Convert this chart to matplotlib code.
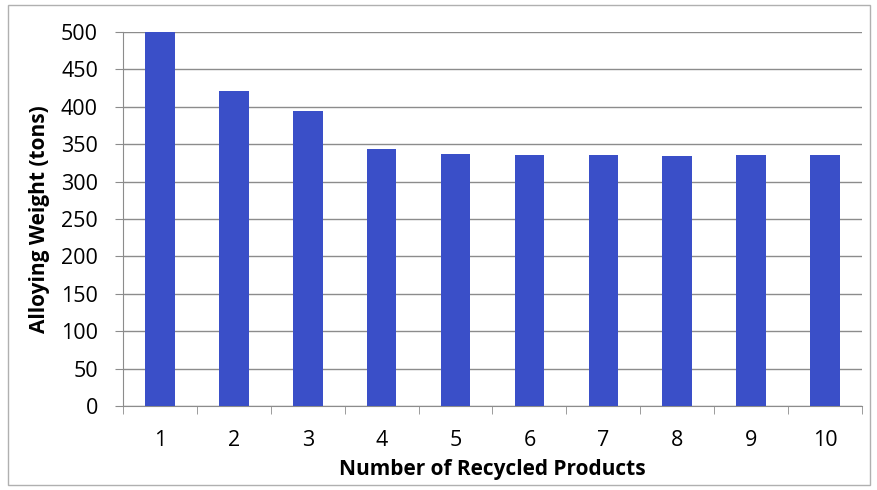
import matplotlib.pyplot as plt
import numpy as np
from matplotlib.patches import Rectangle

# Data
products = [1, 2, 3, 4, 5, 6, 7, 8, 9, 10]
weights = [500, 421, 394, 344, 337, 336, 336, 334, 335, 335]
yticks = [0, 50, 100, 150, 200, 250, 300, 350, 400, 450, 500]

plt.rcParams['font.family'] = ['Open Sans', 'DejaVu Sans']

fig = plt.figure(figsize=(8.78, 4.90), dpi=100)
ax = fig.add_axes([123 / 878, 1 - 406 / 490, (862 - 123) / 878, (406 - 32) / 490])

x = np.arange(len(products))
ax.bar(x, weights, width=0.4, color='#3a4fc8', zorder=3)

ax.set_xlim(-0.5, len(products) - 0.5)
ax.set_ylim(0, 500)
ax.set_yticks(yticks)
ax.yaxis.grid(True, color='#8c8c8c', linewidth=1.0, zorder=0)

# category labels centred, tick marks on category boundaries
ax.set_xticks(x)
ax.set_xticklabels([str(p) for p in products], fontsize=15.5)
ax.set_xticks(np.arange(-0.5, len(products)), minor=True)
ax.tick_params(axis='x', which='major', length=0, pad=17)
ax.tick_params(axis='x', which='minor', length=6, color='#8c8c8c')
ax.tick_params(axis='y', length=6, color='#8c8c8c', labelsize=15.5, pad=12)

for side in ['top', 'right']:
    ax.spines[side].set_visible(False)
for side in ['left', 'bottom']:
    ax.spines[side].set_color('#8c8c8c')

ax.set_ylabel('Alloying Weight (tons)', fontsize=15, fontweight='bold', labelpad=8)
ax.set_xlabel('Number of Recycled Products', fontsize=15, fontweight='bold', labelpad=6)

# light frame round the whole chart
fig.patches.append(Rectangle((8 / 878, 5 / 490), 862 / 878, 480 / 490,
                             transform=fig.transFigure, fill=False,
                             edgecolor='#b0b0b0', linewidth=1.0))

fig.savefig('out.png', dpi=100)
